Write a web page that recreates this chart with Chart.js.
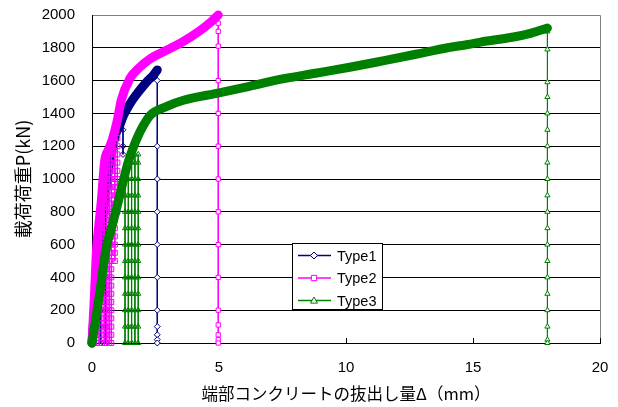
<!DOCTYPE html>
<html>
<head>
<meta charset="utf-8">
<script src="https://cdn.jsdelivr.net/npm/chart.js@4.4.1/dist/chart.umd.min.js"></script>
<style>
  body { margin: 0; background: #fff; }
</style>
</head>
<body>
<canvas id="myChart" width="618" height="407"></canvas>
<script>
//SERIES
var seriesNames = ["Type1", "Type2", "Type3"];
var seriesColors = ["#000080", "#FF00FF", "#008000"];
var seriesMarkers = ["rectRot", "rect", "triangle"];

//AXES
var xTicks = [0, 5, 10, 15, 20];
var yTicks = [0, 200, 400, 600, 800, 1000, 1200, 1400, 1600, 1800, 2000];
var xTitle = "端部コンクリートの抜出し量Δ（mm）";
var yTitle = "載荷荷重P(kN)";

//load levels where the cyclic columns have a marker
var cycleLoads = [0, 100, 200, 300, 400, 500, 600, 700, 800, 900, 1000, 1100, 1200, 1300];
var cycleLoadsFine = [0, 50, 100, 150, 200, 250, 300, 350, 400, 450, 500, 550, 600, 650, 700, 750,
                      800, 850, 900, 950, 1000, 1050, 1100, 1150, 1200, 1250];

//TYPE1
var type1BandX = [0, 0.15, 0.3, 0.45, 0.6, 0.75, 0.95, 1.1, 1.22, 1.35, 1.5, 1.7, 1.9, 2.2, 2.4, 2.57];
var type1BandY = [0, 300, 550, 800, 1000, 1150, 1280, 1330, 1380, 1420, 1460, 1505, 1545, 1600, 1630, 1665];
var type1ColX = [0.35, 0.55, 1.22];
var type1ColBottom = [0, 0, 1150];
var type1ColTop = [600, 900, 1380];
var type1UnloadX = 2.57;
var type1UnloadY = [1665, 1600, 1200, 1000, 800, 600, 400, 200, 100, 50, 20, 0];

//TYPE2
var type2BandX = [0, 0.05, 0.1, 0.18, 0.27, 0.37, 0.5, 0.65, 0.8, 1.0, 1.15, 1.5, 1.8, 2.28, 2.8, 3.5, 4.25, 4.7, 4.97];
var type2BandY = [0, 150, 300, 570, 720, 870, 1110, 1180, 1240, 1360, 1480, 1615, 1670, 1732, 1775, 1830, 1905, 1960, 2000];
var type2ColX = [0.08, 0.18, 0.28, 0.38, 0.48, 0.58, 0.68, 0.76, 0.9, 1.0];
var type2ColBottom = [0, 0, 0, 0, 0, 0, 0, 0, 500, 800];
var type2ColTop = [250, 450, 650, 850, 1000, 1100, 1150, 1180, 1200, 1250];
var type2UnloadX = 4.97;
var type2UnloadY = [2000, 1950, 1900, 1810, 1600, 1400, 1200, 1000, 800, 600, 400, 200, 110, 50, 20, 0];

//TYPE3
var type3BandX = [0, 0.3, 0.55, 0.8, 1.0, 1.25, 1.4, 1.55, 1.75, 2.0, 2.3, 2.9, 3.6, 5.0, 6.2, 7.5, 8.8, 10.2, 11.5, 12.8, 14.0, 14.8, 15.3, 16.6, 17.3, 17.93];
var type3BandY = [0, 300, 570, 720, 840, 1000, 1090, 1160, 1240, 1320, 1390, 1440, 1480, 1525, 1565, 1610, 1645, 1683, 1722, 1762, 1800, 1820, 1835, 1866, 1890, 1920];
var type3ColX = [1.3, 1.43, 1.56, 1.69, 1.82];
var type3ColBottom = [0, 0, 0, 0, 0];
var type3ColTop = [1050, 1100, 1150, 1150, 1150];
var type3UnloadX = 17.93;
var type3UnloadY = [1920, 1900, 1790, 1590, 1500, 1400, 1300, 1200, 1100, 1000, 900, 800, 700, 600, 500, 400, 300, 200, 100, 20, 0];


function toPoints(xs, ys) {
  return xs.map(function(x, i) { return {x: x, y: ys[i]}; });
}

function column(x, bottom, top, loads) {
  var pts = [{x: x, y: top}];
  for (var i = loads.length - 1; i >= 0; i--) {
    var p = loads[i];
    if (p < top && p > bottom) pts.push({x: x, y: p});
  }
  pts.push({x: x, y: bottom});
  return pts;
}

function thinSet(s, data, fill, r) {
  return {
    data: data,
    showLine: true,
    borderColor: seriesColors[s],
    borderWidth: 1,
    pointStyle: seriesMarkers[s],
    pointRadius: r,
    pointBorderWidth: 1,
    pointBorderColor: seriesColors[s],
    pointBackgroundColor: fill,
    order: 3 - s,
    clip: 8
  };
}

function bandSet(s, data) {
  return {
    data: data,
    showLine: true,
    borderColor: seriesColors[s],
    borderWidth: 9,
    borderCapStyle: "round",
    borderJoinStyle: "round",
    cubicInterpolationMode: "monotone",
    pointRadius: 0,
    order: 3 - s,
    clip: 8
  };
}

var all = [
  {bx: type1BandX, by: type1BandY, cx: type1ColX, cb: type1ColBottom, ct: type1ColTop, loads: cycleLoads, ux: type1UnloadX, uy: type1UnloadY},
  {bx: type2BandX, by: type2BandY, cx: type2ColX, cb: type2ColBottom, ct: type2ColTop, loads: cycleLoadsFine, ux: type2UnloadX, uy: type2UnloadY},
  {bx: type3BandX, by: type3BandY, cx: type3ColX, cb: type3ColBottom, ct: type3ColTop, loads: cycleLoads, ux: type3UnloadX, uy: type3UnloadY}
];

var datasets = [];
all.forEach(function(t, s) {
  t.cx.forEach(function(x, i) {
    datasets.push(thinSet(s, column(x, t.cb[i], t.ct[i], t.loads), "rgba(255,255,255,0)", s === 1 ? 3.5 : 3));
  });
  datasets.push(bandSet(s, toPoints(t.bx, t.by)));
  datasets.push(thinSet(s, t.uy.map(function(y) { return {x: t.ux, y: y}; }), "#fff", 3));
});


//frame, inner x ticks and the legend box
function marker(ctx, style, x, y, r) {
  ctx.beginPath();
  if (style === "rectRot") {
    ctx.moveTo(x, y - r); ctx.lineTo(x + r, y); ctx.lineTo(x, y + r); ctx.lineTo(x - r, y);
  } else if (style === "rect") {
    ctx.rect(x - r * 0.75, y - r * 0.75, r * 1.5, r * 1.5);
  } else {
    ctx.moveTo(x, y - r); ctx.lineTo(x + r, y + r * 0.75); ctx.lineTo(x - r, y + r * 0.75);
  }
  ctx.closePath();
  ctx.fillStyle = "#fff";
  ctx.fill();
  ctx.stroke();
}

const framePlugin = {
  id: "frame",
  beforeDatasetsDraw: (chart) => {
    let ctx = chart.ctx;
    let a = chart.chartArea;
    let xs = chart.scales.x;
    ctx.save();
    ctx.lineWidth = 1;
    ctx.strokeStyle = "#808080";
    ctx.beginPath();
    ctx.moveTo(a.left, a.top + 0.5);
    ctx.lineTo(a.right + 0.5, a.top + 0.5);
    ctx.lineTo(a.right + 0.5, a.bottom);
    ctx.stroke();
    ctx.strokeStyle = "#000";
    ctx.beginPath();
    ctx.moveTo(a.left + 0.5, a.top);
    ctx.lineTo(a.left + 0.5, a.bottom + 0.5);
    ctx.lineTo(a.right + 1, a.bottom + 0.5);
    xTicks.forEach(function(v) {
      let px = Math.round(xs.getPixelForValue(v)) + 0.5;
      ctx.moveTo(px, a.bottom);
      ctx.lineTo(px, a.bottom - 5);
    });
    ctx.stroke();
    ctx.restore();
  },
  afterDatasetsDraw: (chart) => {
    let ctx = chart.ctx;
    let bx = 292, by = 243, bw = 90, bh = 66;
    ctx.save();
    ctx.fillStyle = "#fff";
    ctx.fillRect(bx, by, bw, bh);
    ctx.strokeStyle = "#000";
    ctx.lineWidth = 1;
    ctx.strokeRect(bx + 0.5, by + 0.5, bw, bh);
    ctx.font = "14.5px 'Liberation Sans', Arial, sans-serif";
    ctx.textBaseline = "middle";
    ctx.textAlign = "left";
    seriesNames.forEach(function(name, i) {
      let y = by + 12.5 + i * 22.5;
      ctx.strokeStyle = seriesColors[i];
      ctx.lineWidth = 1.5;
      ctx.beginPath();
      ctx.moveTo(bx + 6, y);
      ctx.lineTo(bx + 39, y);
      ctx.stroke();
      ctx.lineWidth = 1;
      marker(ctx, seriesMarkers[i], bx + 22, y, 3.5);
      ctx.fillStyle = "#000";
      ctx.fillText(name, bx + 45, y + 1);
    });
    ctx.restore();
  }
};

var tickFont = {family: "'Liberation Sans', Arial, sans-serif", size: 15};

var chart = new Chart(document.getElementById("myChart"), {
  type: "scatter",
  data: {datasets: datasets},
  options: {
    responsive: false,
    animation: false,
    devicePixelRatio: 1,
    layout: {padding: {left: 0, right: 18, top: 15, bottom: 0}},
    plugins: {legend: {display: false}, tooltip: {enabled: false}},
    scales: {
      x: {
        type: "linear",
        min: 0, max: 20,
        afterBuildTicks: function(s) { s.ticks = xTicks.map(function(v) { return {value: v}; }); },
        afterFit: function(s) { s.height = 64; },
        grid: {display: false},
        border: {display: false},
        ticks: {color: "#000", font: tickFont, padding: 8, maxRotation: 0,
                callback: function(v) { return String(v); }},
        title: {display: true, text: xTitle, color: "#000",
                font: {family: "'Noto Sans CJK JP', sans-serif", size: 16.5}, padding: {top: 0, bottom: 3}}
      },
      y: {
        type: "linear",
        min: 0, max: 2000,
        afterBuildTicks: function(s) { s.ticks = yTicks.map(function(v) { return {value: v}; }); },
        afterFit: function(s) { s.width = 92; s.paddingTop = 0; s.paddingBottom = 0; },
        grid: {
          color: function(c) { return c.tick && c.tick.value === 2000 ? "#808080" : "#000"; },
          lineWidth: 1,
          drawTicks: false
        },
        border: {display: false},
        ticks: {color: "#000", font: tickFont, padding: 17,
                callback: function(v) { return String(v); }},
        title: {display: true, text: yTitle, color: "#000",
                font: {family: "'Noto Sans CJK JP', sans-serif", size: 18}, padding: {top: 12, bottom: 0}}
      }
    }
  },
  plugins: [framePlugin]
});
</script>
</body>
</html>
